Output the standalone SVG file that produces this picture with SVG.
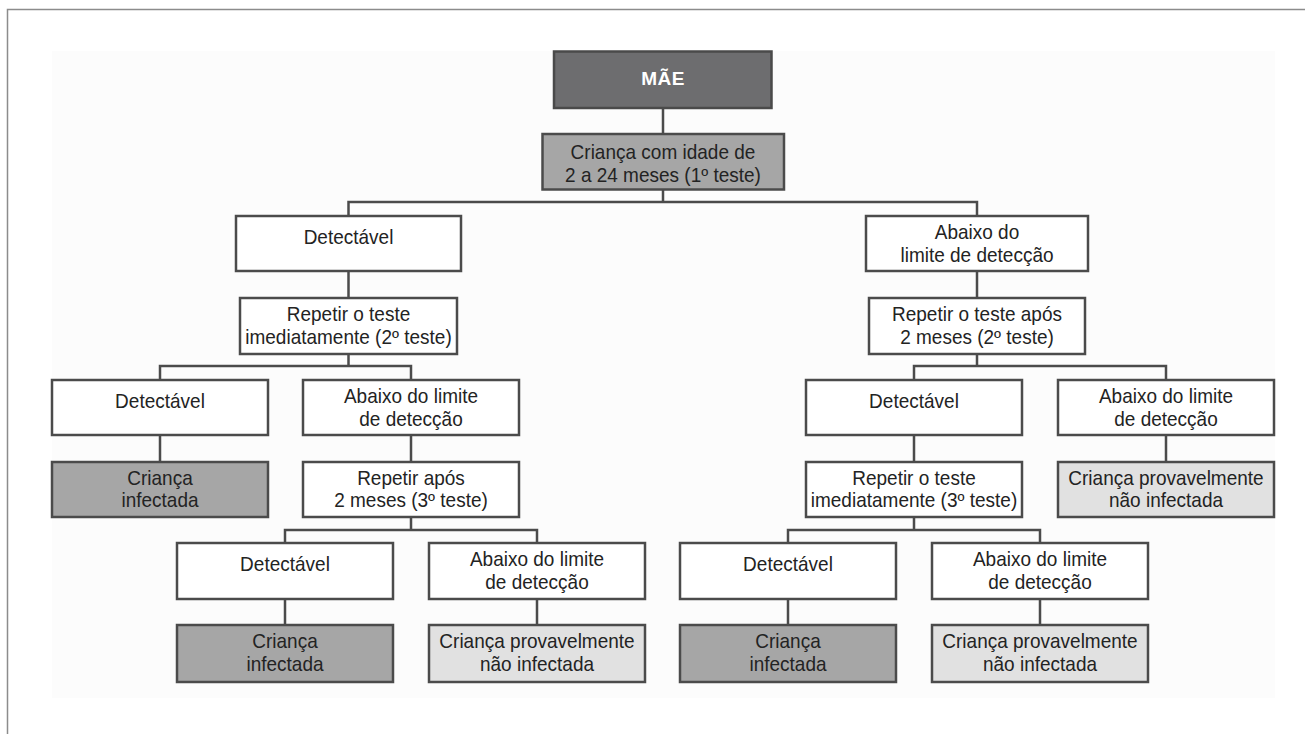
<svg xmlns="http://www.w3.org/2000/svg" width="1305" height="734" viewBox="0 0 1305 734">
  <style>
    .box { stroke: #4b4b4b; stroke-width: 2.5; }
    .white { fill: #ffffff; }
    .dark { fill: #6d6d6f; stroke: #4a4a4a; }
    .mid { fill: #a6a6a6; }
    .light { fill: #e1e1e1; }
    text { font-family: "Liberation Sans", Arial, sans-serif; font-size: 20px; fill: #232323; text-anchor: middle;
           transform-box: fill-box; transform-origin: center; transform: scaleX(0.95); }
    .title { font-weight: bold; fill: #ffffff; font-size: 19px; transform: none; }
    .conn { fill: none; stroke: #4b4b4b; stroke-width: 2.5; }
  </style>

  <!-- page frame -->
  <rect x="0" y="0" width="1305" height="734" fill="#ffffff"/>
  <path d="M7.5,734 V9.5 H1305" fill="none" stroke="#8c8c8c" stroke-width="1.5"/>
  <rect x="52" y="51" width="1223" height="647" fill="#fcfcfc"/>

  <!-- connectors -->
  <g id="connectors" class="conn">
    <path d="M663,108 V134"/>
    <path d="M663,190 V202"/>
    <path d="M348.5,216 V202 H977 V216"/>
    <path d="M348.5,271 V298"/>
    <path d="M977,271 V298"/>
    <path d="M348.5,354 V366"/>
    <path d="M160,380 V366 H411 V380"/>
    <path d="M977,354 V366"/>
    <path d="M914,380 V366 H1166 V380"/>
    <path d="M160,435 V462"/>
    <path d="M411,435 V462"/>
    <path d="M914,435 V462"/>
    <path d="M1166,435 V462"/>
    <path d="M411,517 V530"/>
    <path d="M285,543 V530 H537 V543"/>
    <path d="M914,517 V530"/>
    <path d="M788,543 V530 H1040 V543"/>
    <path d="M285,599 V625"/>
    <path d="M537,599 V625"/>
    <path d="M788,599 V625"/>
    <path d="M1040,599 V625"/>
  </g>

  <!-- root -->
  <g id="mae">
    <rect class="box dark" x="554" y="51.5" width="217.5" height="56.5"/>
    <text class="title" x="663" y="85" letter-spacing="0.5">MÃE</text>
  </g>

  <g id="crianca-idade">
    <rect class="box mid" x="542.5" y="134" width="241.5" height="55.5"/>
    <text x="663" y="159">Criança com idade de</text>
    <text x="663" y="182">2 a 24 meses (1º teste)</text>
  </g>

  <!-- left branch -->
  <g id="detectavel-1">
    <rect class="box white" x="236" y="216" width="225" height="55"/>
    <text x="348.5" y="244">Detectável</text>
  </g>

  <g id="repetir-imediatamente-2">
    <rect class="box white" x="240" y="298" width="217" height="56"/>
    <text x="348.5" y="321">Repetir o teste</text>
    <text x="348.5" y="344">imediatamente (2º teste)</text>
  </g>

  <g id="detectavel-2a">
    <rect class="box white" x="52" y="380" width="216" height="55"/>
    <text x="160" y="408">Detectável</text>
  </g>

  <g id="abaixo-2a">
    <rect class="box white" x="303" y="380" width="216" height="55"/>
    <text x="411" y="403">Abaixo do limite</text>
    <text x="411" y="426">de detecção</text>
  </g>

  <g id="infectada-2a">
    <rect class="box mid" x="52" y="462" width="216" height="55"/>
    <text x="160" y="485">Criança</text>
    <text x="160" y="507">infectada</text>
  </g>

  <g id="repetir-apos-3">
    <rect class="box white" x="303" y="462" width="216" height="55"/>
    <text x="411" y="485">Repetir após</text>
    <text x="411" y="507">2 meses (3º teste)</text>
  </g>

  <g id="detectavel-3a">
    <rect class="box white" x="177" y="543" width="216" height="56"/>
    <text x="285" y="571">Detectável</text>
  </g>

  <g id="abaixo-3a">
    <rect class="box white" x="429" y="543" width="216" height="56"/>
    <text x="537" y="566">Abaixo do limite</text>
    <text x="537" y="589">de detecção</text>
  </g>

  <g id="infectada-3a">
    <rect class="box mid" x="177" y="625" width="216" height="57"/>
    <text x="285" y="648">Criança</text>
    <text x="285" y="671">infectada</text>
  </g>

  <g id="nao-infectada-3a">
    <rect class="box light" x="429" y="625" width="216" height="57"/>
    <text x="537" y="648">Criança provavelmente</text>
    <text x="537" y="671">não infectada</text>
  </g>

  <!-- right branch -->
  <g id="abaixo-1">
    <rect class="box white" x="866" y="216" width="222" height="55"/>
    <text x="977" y="239">Abaixo do</text>
    <text x="977" y="262">limite de detecção</text>
  </g>

  <g id="repetir-apos-2">
    <rect class="box white" x="869" y="298" width="216" height="56"/>
    <text x="977" y="321">Repetir o teste após</text>
    <text x="977" y="344">2 meses (2º teste)</text>
  </g>

  <g id="detectavel-2b">
    <rect class="box white" x="806" y="380" width="216" height="55"/>
    <text x="914" y="408">Detectável</text>
  </g>

  <g id="abaixo-2b">
    <rect class="box white" x="1058" y="380" width="216" height="55"/>
    <text x="1166" y="403">Abaixo do limite</text>
    <text x="1166" y="426">de detecção</text>
  </g>

  <g id="repetir-imediatamente-3">
    <rect class="box white" x="806" y="462" width="216" height="55"/>
    <text x="914" y="485">Repetir o teste</text>
    <text x="914" y="507">imediatamente (3º teste)</text>
  </g>

  <g id="nao-infectada-2b">
    <rect class="box light" x="1058" y="462" width="216" height="55"/>
    <text x="1166" y="485">Criança provavelmente</text>
    <text x="1166" y="507">não infectada</text>
  </g>

  <g id="detectavel-3b">
    <rect class="box white" x="680" y="543" width="216" height="56"/>
    <text x="788" y="571">Detectável</text>
  </g>

  <g id="abaixo-3b">
    <rect class="box white" x="932" y="543" width="216" height="56"/>
    <text x="1040" y="566">Abaixo do limite</text>
    <text x="1040" y="589">de detecção</text>
  </g>

  <g id="infectada-3b">
    <rect class="box mid" x="680" y="625" width="216" height="57"/>
    <text x="788" y="648">Criança</text>
    <text x="788" y="671">infectada</text>
  </g>

  <g id="nao-infectada-3b">
    <rect class="box light" x="932" y="625" width="216" height="57"/>
    <text x="1040" y="648">Criança provavelmente</text>
    <text x="1040" y="671">não infectada</text>
  </g>
</svg>
